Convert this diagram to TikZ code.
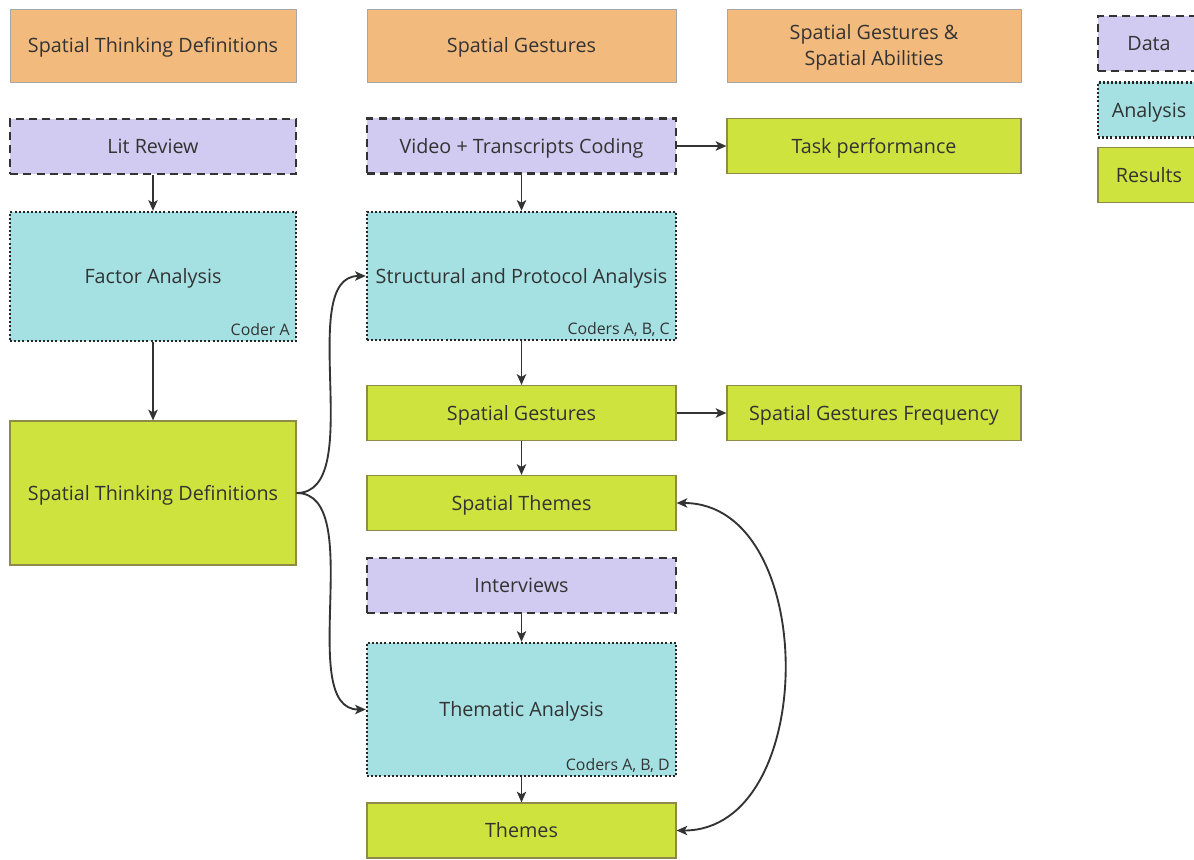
\documentclass[tikz,border=0pt]{standalone}
\usepackage{fontspec}
\setmainfont{Open Sans}
\usetikzlibrary{arrows.meta, positioning}

% box colours
\definecolor{headfill}{HTML}{F2BA7C}
\definecolor{datafill}{HTML}{D1CAF1}
\definecolor{anafill}{HTML}{A5E1E3}
\definecolor{resfill}{HTML}{CFE33E}
\definecolor{inkgray}{HTML}{333333}

\begin{document}
\begin{tikzpicture}[x=0.75pt, y=-0.75pt, % one unit is one pixel of the reference
		every node/.style={font=\fontsize{14.8}{18}\selectfont, text=inkgray, text height=10.6pt, text depth=0pt},
		header/.style={draw=gray!70, line width=0.6pt, fill=headfill, minimum height=54.75pt},
		databox/.style={draw=inkgray, line width=1.6pt, dash pattern=on 6pt off 4pt, fill=datafill, minimum height=41.25pt},
		anabox/.style={draw=black!85, line width=1.8pt, dash pattern=on 1.5pt off 1.6pt, fill=anafill},
		resbox/.style={draw=olive!50!gray, line width=0.9pt, fill=resfill, minimum height=41.25pt},
		coder/.style={font=\fontsize{11.9}{14}\selectfont, text height=8.5pt, anchor=south east, inner xsep=5.5pt, inner ysep=4.5pt},
		link/.style={draw=inkgray, line width=1.4pt, -{Stealth[length=8pt, width=7pt, inset=2pt]}}
	]
	
	% keep the page at the size of the reference
	\clip (0,0) rectangle (1194,859);
	\fill[white] (0,0) rectangle (1194,859);
	
	% Column widths
	\def\wleft{214.5pt}
	\def\wmid{231.75pt}
	\def\wright{220.5pt}
	
	% Header row
	\node[header, minimum width=\wleft] (headdef) at (153,45.5) {Spatial Thinking Definitions};
	\node[header, minimum width=\wmid] (headgest) at (521.5,45.5) {Spatial Gestures};
	\node[header, minimum width=\wright, align=center, font=\fontsize{14.8}{19.5}\selectfont, text height=30.7pt] (headabil) at (874,45.5) {Spatial Gestures \&\\Spatial Abilities};
	
	% Legend (runs off the right edge)
	\node[databox, minimum width=76.5pt] (legdata) at (1149,43.5) {Data};
	\node[anabox, minimum width=76.5pt, minimum height=41.25pt] (legana) at (1149,110) {Analysis};
	\node[resbox, minimum width=76.5pt] (legres) at (1149,175) {Results};
	
	% Left column
	\node[databox, minimum width=\wleft] (litreview) at (153,146.5) {Lit Review};
	\node[anabox, minimum width=\wleft, minimum height=96.75pt] (factor) at (153,276.5) {Factor Analysis};
	\node[coder] (codera) at (factor.south east) {Coder A};
	\node[resbox, minimum width=\wleft, minimum height=108pt] (stdefs) at (153,493) {Spatial Thinking Definitions};
	
	% Middle column
	\node[databox, minimum width=\wmid] (video) at (521.5,146) {Video + Transcripts Coding};
	\node[anabox, minimum width=\wmid, minimum height=96pt] (protocol) at (521.5,276) {Structural and Protocol Analysis};
	\node[coder] (coderabc) at (protocol.south east) {Coders A, B, C};
	\node[resbox, minimum width=\wmid] (gestures) at (521.5,413) {Spatial Gestures};
	\node[resbox, minimum width=\wmid] (spthemes) at (521.5,503) {Spatial Themes};
	\node[databox, minimum width=\wmid] (interviews) at (521.5,585.5) {Interviews};
	\node[anabox, minimum width=\wmid, minimum height=99.75pt] (thematic) at (521.5,709.5) {Thematic Analysis};
	\node[coder] (coderabd) at (thematic.south east) {Coders A, B, D};
	\node[resbox, minimum width=\wmid] (themes) at (521.5,830.5) {Themes};
	
	% Right column
	\node[resbox, minimum width=\wright] (taskperf) at (874,146) {Task performance};
	\node[resbox, minimum width=\wright] (gestfreq) at (874,413) {Spatial Gestures Frequency};
	
	% Straight links
	\draw[link] (litreview) -- (factor);
	\draw[link] (factor) -- (stdefs);
	\draw[link] (video) -- (protocol);
	\draw[link] (protocol) -- (gestures);
	\draw[link] (gestures) -- (spthemes);
	\draw[link] (interviews) -- (thematic);
	\draw[link] (thematic) -- (themes);
	\draw[link] (video) -- (taskperf);
	\draw[link] (gestures) -- (gestfreq);
	
	% Curved links
	\draw[link] (stdefs.east) to[out=0, in=180, looseness=0.8] (protocol.west);
	\draw[link] (stdefs.east) to[out=0, in=180, looseness=0.8] (thematic.west);
	\draw[link, {Stealth[length=8pt, width=7pt, inset=2pt]}-{Stealth[length=8pt, width=7pt, inset=2pt]}] (spthemes.east) to[out=0, in=0, looseness=1.12] (themes.east);
	
\end{tikzpicture}
\end{document}
